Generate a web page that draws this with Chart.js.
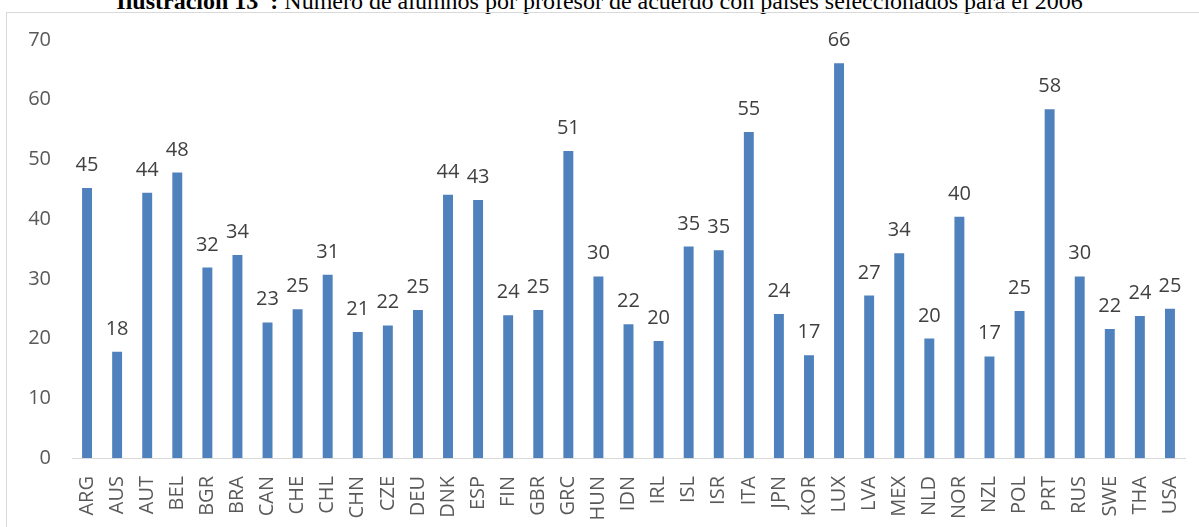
<!DOCTYPE html>
<html>
<head>
<meta charset="utf-8">
<script src="https://cdn.jsdelivr.net/npm/chart.js@4.4.1/dist/chart.umd.min.js"></script>
<style>
  html, body { margin: 0; padding: 0; background: #fff; overflow: hidden; }
  body { width: 1199px; height: 527px; position: relative; }
  #title {
    position: absolute; left: 0; width: 1199px; top: -12px;
    text-align: center; font-family: "Liberation Serif", "Times New Roman", serif;
    font-size: 24px; color: #000; white-space: nowrap; line-height: 27px;
  }
  #box {
    position: absolute; left: 6px; top: 12px; width: 1220px; height: 540px;
    border: 1px solid #d9d9d9; box-sizing: border-box;
  }
  #chart { display: block; position: absolute; left: 7px; top: 7px; }
</style>
</head>
<body>
<div id="title"><b>Ilustración 13 &nbsp;:</b> Número de alumnos por profesor de acuerdo con países seleccionados para el 2006</div>
<div id="box"></div>
<canvas id="chart" width="1218" height="544"></canvas>
<script>
/* Alumnos por profesor, países seleccionados, 2006 */

var COUNTRIES = ['ARG', 'AUS', 'AUT', 'BEL', 'BGR', 'BRA', 'CAN', 'CHE', 'CHL', 'CHN',
    'CZE', 'DEU', 'DNK', 'ESP', 'FIN', 'GBR', 'GRC', 'HUN', 'IDN', 'IRL',
    'ISL', 'ISR', 'ITA', 'JPN', 'KOR', 'LUX', 'LVA', 'MEX', 'NLD', 'NOR',
    'NZL', 'POL', 'PRT', 'RUS', 'SWE', 'THA', 'USA'];

var STUDENTS_PER_TEACHER = [45.2, 17.8, 44.4, 47.8, 31.9, 34.0, 22.7, 24.9, 30.7, 21.1,
    22.2, 24.8, 44.1, 43.2, 23.9, 24.8, 51.4, 30.4, 22.4, 19.6,
    35.4, 34.8, 54.6, 24.1, 17.2, 66.1, 27.2, 34.3, 20.0, 40.4,
    17.0, 24.6, 58.4, 30.4, 21.6, 23.8, 25.0];

var Y_MIN = 0, Y_MAX = 70, Y_STEP = 10;

var BAR_COLOR = '#4F81BD';
var TICK_COLOR = '#595959';
var LABEL_COLOR = '#404040';
var FONT = '"Open Sans", "Liberation Sans", sans-serif';

// value labels above each bar (no datalabels plugin available offline)
var barValueLabels = {
    id: 'barValueLabels',
    afterDatasetsDraw: function(chart) {
        var ctx = chart.ctx;
        var meta = chart.getDatasetMeta(0);
        ctx.save();
        ctx.font = '20px ' + FONT;
        ctx.fillStyle = LABEL_COLOR;
        ctx.textAlign = 'center';
        ctx.textBaseline = 'alphabetic';
        meta.data.forEach(function(bar, i) {
            var v = chart.data.datasets[0].data[i];
            ctx.fillText(String(Math.round(v)), bar.x, bar.y - 17);
        });
        ctx.restore();
    }
};

new Chart(document.getElementById('chart'), {
    type: 'bar',
    data: {
        labels: COUNTRIES,
        datasets: [{
            data: STUDENTS_PER_TEACHER,
            backgroundColor: BAR_COLOR,
            borderWidth: 0,
            barPercentage: 0.33,
            categoryPercentage: 1
        }]
    },
    options: {
        responsive: false,
        animation: false,
        devicePixelRatio: 1,
        layout: { padding: { top: 0, right: 40, left: 0, bottom: 0 } },
        plugins: { legend: { display: false }, tooltip: { enabled: false } },
        scales: {
            x: {
                grid: { display: false, drawTicks: false },
                border: { display: true, color: '#d9d9d9', width: 1 },
                ticks: {
                    color: TICK_COLOR, font: { family: FONT, size: 20 },
                    minRotation: 90, maxRotation: 90, padding: 18, autoSkip: false
                },
                afterFit: function(scale) { scale.height = 93; }
            },
            y: {
                min: Y_MIN, max: Y_MAX,
                grid: { display: false, drawTicks: false },
                border: { display: false },
                ticks: {
                    stepSize: Y_STEP, color: TICK_COLOR,
                    font: { family: FONT, size: 20 }, padding: 21
                },
                afterFit: function(scale) { scale.width = 65; }
            }
        }
    },
    plugins: [barValueLabels]
});
</script>
</body>
</html>
